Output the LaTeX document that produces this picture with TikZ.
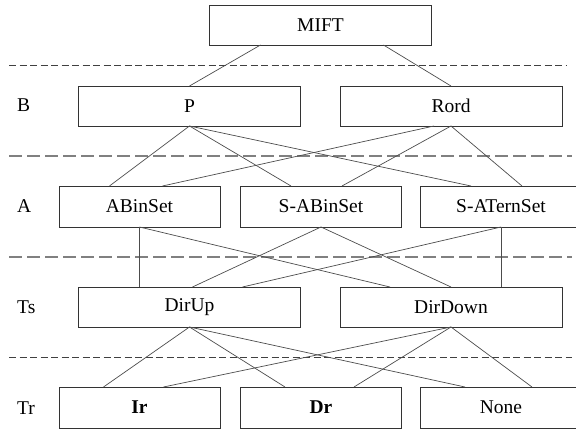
\documentclass[tikz,border=0pt]{standalone}
\usepackage{fontspec}
\setmainfont{Liberation Serif}
\begin{document}
\begin{tikzpicture}[x=1pt,y=-1pt,
  box/.style={draw=black!80,line width=0.9pt,inner sep=0pt,outer sep=0pt,font=\fontsize{19.5}{22}\selectfont},
  widebox/.style={box,minimum width=222pt,minimum height=40pt},
  narrowbox/.style={box,minimum width=161pt,minimum height=41pt},
  link/.style={draw=black!70,line width=0.7pt},
  thinsep/.style={draw=black!75,line width=0.8pt,dash pattern=on 7pt off 3.5pt},
  thicksep/.style={draw=black!50,line width=1.4pt,dash pattern=on 13pt off 5pt},
  level/.style={anchor=west,inner sep=0pt,font=\fontsize{19.5}{22}\selectfont}]
\useasboundingbox (0,0) rectangle (576,430);
\node[widebox] (mift) at (320.5,25) {MIFT};
\node[widebox] (p) at (189.5,106) {P};
\node[widebox] (rord) at (451,106) {Rord};
\node[narrowbox] (abin) at (139.5,206.5) {ABinSet};
\node[narrowbox] (sabin) at (321,206.5) {S-ABinSet};
\node[narrowbox] (stern) at (501,206.5) {S-ATernSet};
\node[widebox] (dirup) at (189.5,307) {DirUp};
\node[widebox] (dirdown) at (451,307) {DirDown};
\node[narrowbox] (ir) at (139.5,407.5) {\textbf{Ir}};
\node[narrowbox] (dr) at (321,407.5) {\textbf{Dr}};
\node[narrowbox] (none) at (501,407.5) {None};
\node[level] (lb) at (17,105) {B};
\node[level] (la) at (17,206) {A};
\node[level] (lts) at (17,307) {Ts};
\node[level] (ltr) at (17,408) {Tr};
\draw[thinsep] (9,65) -- (566,65);
\draw[thicksep] (9,156) -- (572,156);
\draw[thicksep] (9,257) -- (572,257);
\draw[thinsep] (9,357) -- (572,357);
\draw[link] ([xshift=-60pt]mift.south) -- (p.north);
\draw[link] ([xshift=63pt]mift.south) -- (rord.north);
\foreach \n in {abin,sabin,stern} {
  \draw[link] (p.south) -- ([xshift=-30pt]\n.north);
}
\draw[link] ([xshift=-17pt]rord.south) -- ([xshift=23pt]abin.north);
\draw[link] (rord.south) -- ([xshift=21pt]sabin.north);
\draw[link] (rord.south) -- ([xshift=21pt]stern.north);
\draw[link] (abin.south) -- ([xshift=-50pt]dirup.north);
\draw[link] (abin.south) -- ([xshift=-61pt]dirdown.north);
\draw[link] (sabin.south) -- ([xshift=3pt]dirup.north);
\draw[link] (sabin.south) -- (dirdown.north);
\draw[link] (stern.south) -- ([xshift=53pt]dirup.north);
\draw[link] (stern.south) -- ([xshift=50pt]dirdown.north);
\foreach \n in {ir,dr,none} {
  \draw[link] (dirup.south) -- ([xshift=-36pt]\n.north);
}
\draw[link] (dirdown.south) -- ([xshift=24pt]ir.north);
\draw[link] (dirdown.south) -- ([xshift=33pt]dr.north);
\draw[link] (dirdown.south) -- ([xshift=31pt]none.north);
\end{tikzpicture}
\end{document}
